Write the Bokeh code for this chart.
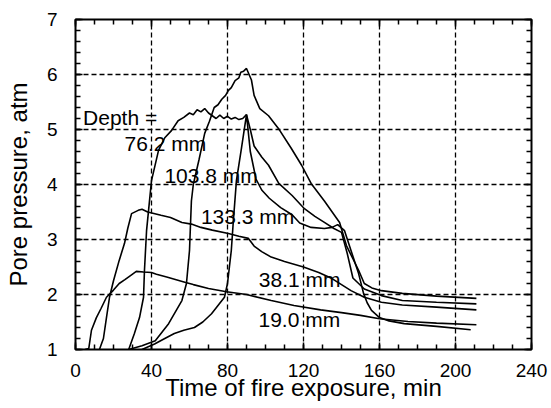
from bokeh.plotting import figure
from bokeh.models import Range1d, LinearAxis, SingleIntervalTicker, ColumnDataSource
from bokeh.core.properties import value
from bokeh.embed import file_html
from bokeh.resources import INLINE

# ---- data ----
t_19 = [5, 7, 8.4, 11, 13.5, 16.3, 20, 23, 26, 28.4, 32, 35.8, 40, 42.6, 48, 53, 58, 62, 70, 79.5,
        90, 103, 115, 129, 140, 150, 160, 175, 190, 211]
p_19 = [1.0, 1.02, 1.35, 1.58, 1.75, 1.95, 2.08, 2.2, 2.27, 2.33, 2.42, 2.41, 2.4, 2.37, 2.32, 2.27,
        2.22, 2.18, 2.11, 2.05, 2.0, 1.89, 1.8, 1.72, 1.67, 1.62, 1.56, 1.51, 1.48, 1.45]

t_38 = [12.6, 14.7, 16.3, 17.9, 20, 23, 25.8, 27.5, 29.5, 33, 35, 38, 45, 50, 56, 61, 66, 72, 80.5,
        86, 91, 94, 98, 103, 110, 120, 128, 135, 140, 145, 152, 161, 172, 190, 211]
p_38 = [1.0, 1.2, 1.58, 1.95, 2.25, 2.62, 2.93, 3.2, 3.47, 3.53, 3.55, 3.5, 3.44, 3.4, 3.31, 3.28,
        3.22, 3.17, 3.11, 3.06, 3.02, 2.88, 2.78, 2.68, 2.6, 2.5, 2.4, 2.29, 2.18, 2.07, 1.95, 1.86,
        1.81, 1.77, 1.72]

t_76 = [28, 31, 33.7, 35.8, 36.3, 37.4, 40, 43.7, 47, 50.5, 54, 57, 60, 62, 64, 66, 68, 70, 72, 74,
        76, 78, 80, 82, 84, 86, 88, 90, 92, 94, 98, 101.6, 107, 114, 120.5, 126, 131, 136, 140, 143,
        146, 152, 161, 172, 190, 211]
p_76 = [1.0, 1.29, 1.58, 1.95, 2.44, 3.16, 4.07, 4.62, 4.85, 4.98, 5.16, 5.22, 5.3, 5.27, 5.36,
        5.32, 5.38, 5.3, 5.25, 5.2, 5.26, 5.2, 5.24, 5.19, 5.22, 5.18, 5.2, 5.27, 5.0, 4.7, 4.5,
        4.35, 4.02, 3.8, 3.56, 3.42, 3.31, 3.2, 3.13, 2.75, 2.3, 2.1, 1.98, 1.89, 1.86, 1.83]

t_104 = [28, 35, 42, 49, 56, 58.4, 60, 61, 62, 65, 68, 70.5, 73, 75, 77, 79, 80.5, 82, 84, 86, 87,
         88.5, 90, 92.6, 94, 97, 101.6, 106.8, 113.7, 119, 124, 131, 139, 142.6, 146, 149, 152,
         156, 161, 172, 190, 211]
p_104 = [1.0, 1.07, 1.16, 1.47, 1.89, 2.2, 2.8, 3.7, 4.0, 4.45, 4.93, 5.15, 5.4, 5.45, 5.55, 5.62,
         5.71, 5.76, 5.89, 5.94, 6.04, 6.06, 6.11, 5.9, 5.62, 5.38, 5.25, 5.02, 4.65, 4.35, 4.02,
         3.7, 3.31, 2.89, 2.65, 2.44, 2.2, 2.12, 2.07, 2.02, 1.97, 1.93]

t_133 = [35, 41.6, 47, 52, 57, 62.6, 67, 71.6, 75, 78.4, 80, 81, 82, 83, 84.7, 87.4, 90, 92, 95, 98,
         102, 108, 114, 118, 124, 131, 135, 138, 141.6, 145, 149, 151.6, 153.5, 155.8, 160, 165,
         173, 190, 208]
p_133 = [1.0, 1.1, 1.2, 1.29, 1.35, 1.4, 1.5, 1.65, 1.8, 1.95, 2.2, 2.5, 2.8, 3.3, 4.07, 4.67, 5.27,
         4.6, 4.1, 3.9, 3.75, 3.58, 3.45, 3.3, 3.22, 3.2, 3.22, 3.27, 3.16, 2.8, 2.38, 2.02, 1.85,
         1.71, 1.58, 1.52, 1.47, 1.42, 1.36]

label_text = ["Depth =", "76.2 mm", "103.8 mm", "133.3 mm", "38.1 mm", "19.0 mm"]
label_x = [4.0, 25.8, 46.8, 66.0, 96.5, 96.3]
label_y = [5.21, 4.75, 4.17, 3.41, 2.27, 1.55]

x_title = "Time of fire exposure, min"
y_title = "Pore pressure, atm"
x_ticks_interval = 40
y_ticks_interval = 1

FONT = "Liberation Sans"

# ---- figure ----
p = figure(width=551, height=408, output_backend="svg", toolbar_location=None,
           x_range=Range1d(0, 240), y_range=Range1d(1, 7),
           min_border_left=75, min_border_right=20, min_border_top=19, min_border_bottom=59,
           x_axis_label=x_title, y_axis_label=y_title)
p.background_fill_color = "white"
p.border_fill_color = "white"
p.outline_line_color = "black"
p.outline_line_width = 2

xt = SingleIntervalTicker(interval=x_ticks_interval, num_minor_ticks=4)
yt = SingleIntervalTicker(interval=y_ticks_interval, num_minor_ticks=5)

for ax, tk in ((p.xaxis[0], xt), (p.yaxis[0], yt)):
    ax.ticker = tk
    ax.axis_line_color = None
    ax.major_tick_in = 7
    ax.major_tick_out = 0
    ax.minor_tick_in = 5
    ax.minor_tick_out = 0
    ax.major_tick_line_width = 1.5
    ax.minor_tick_line_width = 1.5
    ax.major_label_text_font = FONT
    ax.major_label_text_font_size = "19px"
    ax.major_label_text_color = "black"
    ax.axis_label_text_font = FONT
    ax.axis_label_text_font_size = "24px"
    ax.axis_label_text_font_style = "normal"
    ax.axis_label_text_color = "black"

p.xaxis[0].major_label_standoff = 14
p.xaxis[0].axis_label_standoff = -6
p.yaxis[0].major_label_standoff = 18
p.yaxis[0].axis_label_standoff = 12

for loc, tk in (("above", xt), ("right", yt)):
    ax = LinearAxis(ticker=tk, axis_line_color=None, major_tick_in=7, major_tick_out=0,
                    minor_tick_in=5, minor_tick_out=0, major_tick_line_width=1.5,
                    minor_tick_line_width=1.5, major_label_text_font_size="1px",
                    major_label_text_color=None, major_label_standoff=0)
    p.add_layout(ax, loc)

p.xgrid.ticker = xt
p.ygrid.ticker = yt
for g in (p.xgrid[0], p.ygrid[0]):
    g.grid_line_color = "black"
    g.grid_line_width = 1.3
    g.grid_line_dash = "5 3"

for t, pr in ((t_19, p_19), (t_38, p_38), (t_76, p_76), (t_104, p_104), (t_133, p_133)):
    p.line(t, pr, line_color="black", line_width=1.6)

src = ColumnDataSource(dict(x=label_x, y=label_y, text=label_text))
p.text(x="x", y="y", text="text", source=src, text_font=value(FONT),
       text_font_size="21px", text_color="black", text_align="left", text_baseline="middle")

open("out.html", "w").write(file_html(p, INLINE))
